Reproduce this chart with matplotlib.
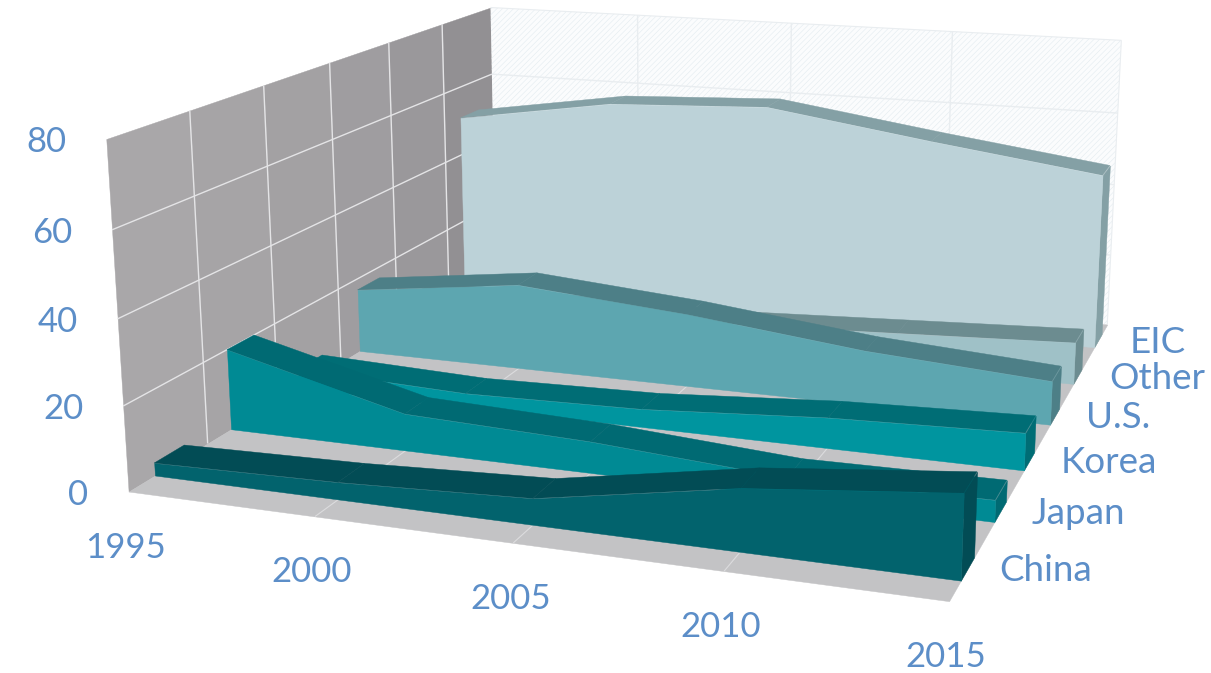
import matplotlib
matplotlib.use('Agg')
import matplotlib.pyplot as plt
from mpl_toolkits.mplot3d import proj3d
from mpl_toolkits.mplot3d.art3d import Poly3DCollection

plt.rcParams['font.family'] = ['Lato', 'DejaVu Sans']
plt.rcParams['hatch.linewidth'] = 0.4

years = [1995, 2000, 2005, 2010, 2015]
series_names = ['China', 'Japan', 'Korea', 'U.S.', 'Other', 'EIC']
china = [3, 4, 6, 14, 18.7]
japan = [20, 9, 7.5, 4.5, 5]
korea = [5, 3.5, 4.5, 7.5, 9]
us = [17, 22.5, 19, 14, 11]
other = [7, 7, 7, 9, 11]
eic = [51, 58, 60, 53.5, 47.5]
z_ticks = [0, 20, 40, 60, 80]

series_values = [china, japan, korea, us, other, eic]
front_colors = ['#02636d', '#008a94', '#00959f', '#5da6b0', '#9fc1c7', '#bcd2d8']
top_colors = ['#024c55', '#006a73', '#006d75', '#4d7f87', '#6c8c90', '#84a0a5']
wall_colors = ['#a9a7a9', '#a6a4a6', '#a3a1a3', '#9f9da0', '#9a989b', '#929093']
label_color = '#5c8ec8'

W, H = 1211, 673
fig = plt.figure(figsize=(W / 100, H / 100), dpi=100)
ax = fig.add_subplot(projection='3d', computed_zorder=False)
ax.set_xlim(1995, 2015)
ax.set_ylim(0, 6)
ax.set_zlim(0, 80)
ax.view_init(elev=14.312, azim=-70.843)
ax.set_proj_type('persp', focal_length=0.369)
ax.set_box_aspect((1, 1.1, 0.431))
size = 1131.759
ax.set_position([(657.9 - size / 2) / W, (413.684 - size / 2) / H, size / W, size / H])
ax.set_axis_off()
ax.patch.set_alpha(0)


def add_poly(verts, color, zorder, **kw):
    poly = Poly3DCollection(verts, facecolors=color, edgecolors=kw.pop('edge', color),
                            linewidths=kw.pop('lw', 0.3), shade=False, zorder=zorder, **kw)
    poly.set_clip_on(False)
    ax.add_collection3d(poly)


def add_line(xs, ys, zs, color, zorder, lw=1.0):
    line, = ax.plot(xs, ys, zs, color=color, lw=lw, zorder=zorder, solid_capstyle='butt')
    line.set_clip_on(False)


# walls and floor
x0, x1 = years[0], years[-1]
y1 = len(series_names)
z1 = z_ticks[-1]
for y, color in enumerate(wall_colors):
    add_poly([[(x0, y, 0), (x0, y + 1, 0), (x0, y + 1, z1), (x0, y, z1)]], color, 1)
add_poly([[(x0, y1, 0), (x1, y1, 0), (x1, y1, z1), (x0, y1, z1)]], '#fbfcfd', 1,
         edge='#e3ebf0', lw=0, hatch='//////')
add_poly([[(x0, 0, 0), (x1, 0, 0), (x1, y1, 0), (x0, y1, 0)]], '#c3c3c5', 1)

for z in z_ticks[1:-1]:
    add_line([x0, x0], [0, y1], [z, z], '#e4e4e6', 2)
    add_line([x0, x1], [y1, y1], [z, z], '#e9edf0', 2)
for y in range(1, y1):
    add_line([x0, x0], [y, y], [0, z1], '#e4e4e6', 2)
for x in years[1:-1]:
    add_line([x, x], [y1, y1], [0, z1], '#e9edf0', 2)
    add_line([x, x], [0, y1], [0, 0], '#dcdcde', 2, lw=0.8)
add_line([x0, x1], [y1, y1], [z1, z1], '#e9edf0', 2, lw=0.8)
add_line([x1, x1], [y1, y1], [0, z1], '#e9edf0', 2, lw=0.8)

# one ribbon per series, back to front
for i in range(len(series_names) - 1, -1, -1):
    values = series_values[i]
    yf, yb = i + 0.32, i + 0.70
    order = 10 + (len(series_names) - i) * 3
    tops = []
    for k in range(len(years) - 1):
        tops.append([(years[k], yf, values[k]), (years[k + 1], yf, values[k + 1]),
                     (years[k + 1], yb, values[k + 1]), (years[k], yb, values[k])])
    add_poly(tops, top_colors[i], order)
    add_poly([[(x1, yf, 0), (x1, yb, 0), (x1, yb, values[-1]), (x1, yf, values[-1])]],
             top_colors[i], order + 1)
    front = [(x, yf, v) for x, v in zip(years, values)] + [(x1, yf, 0), (x0, yf, 0)]
    add_poly([front], front_colors[i], order + 2)

# tick labels sit at a pixel offset from their projected anchor
ax.apply_aspect()
M = ax.get_proj()


def add_label(text, x, y, z, dx, dy, ha, fontsize=25):
    u, v, _ = proj3d.proj_transform(x, y, z, M)
    ax.annotate(text, (u, v), xytext=(dx, dy), textcoords='offset pixels', ha=ha, va='center',
                color=label_color, fontsize=fontsize, annotation_clip=False, zorder=50)


for z in z_ticks:
    add_label(str(z), x0, 0, z, -40, -3, 'right')
for x in years:
    add_label(str(x), x, 0, 0, -3, -56, 'center')
for i, name in enumerate(series_names):
    add_label(name, x1, i + 0.5, 0, 32, -1, 'left', fontsize=26.5)

fig.savefig('out.png', dpi=100)
